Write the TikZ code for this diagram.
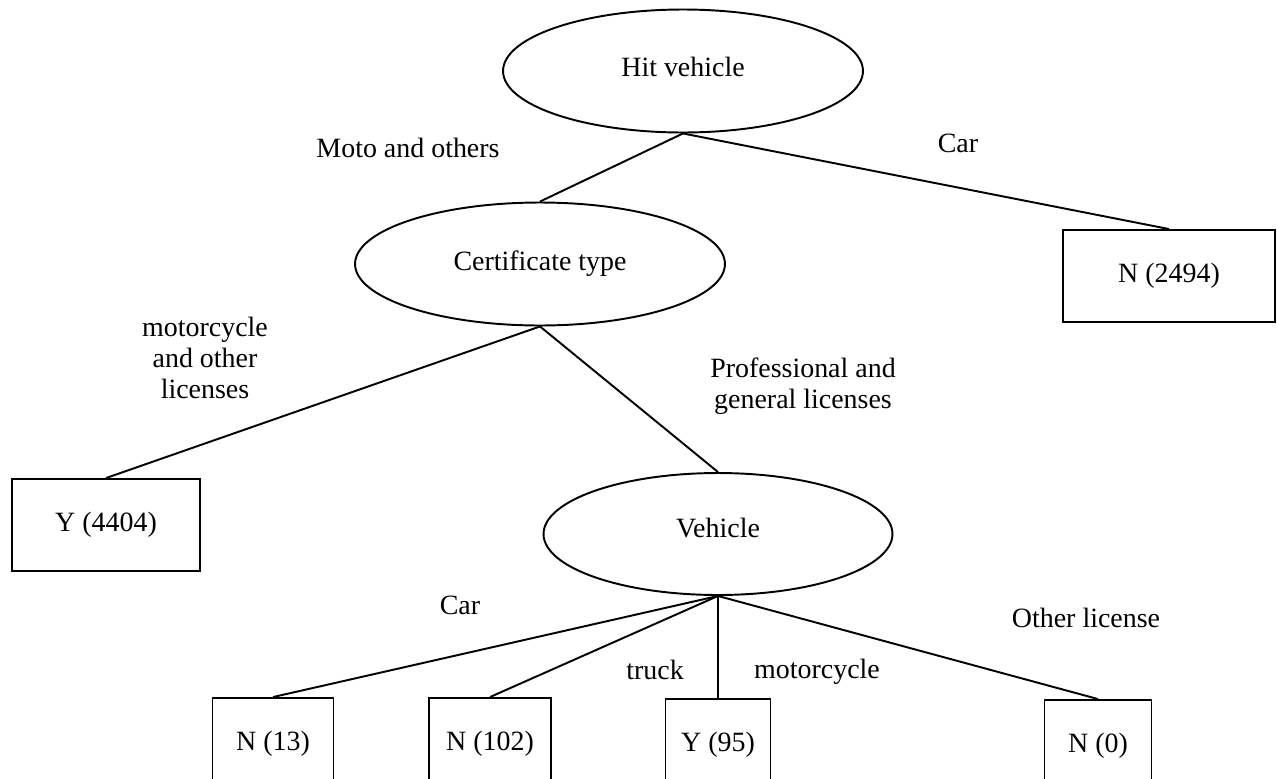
\documentclass[tikz,border=0pt]{standalone}
\usepackage{fontspec}
\setmainfont{Liberation Serif}
\usetikzlibrary{shapes.geometric}

\tikzset{
    split/.style={draw, ellipse, line width=1.1pt, inner sep=0pt},
    leaf/.style={draw, rectangle, line width=1.1pt, inner sep=0pt, minimum height=1.84cm},
    branch/.style={align=center},
    edge/.style={line width=1.1pt}
}

\begin{document}
\begin{tikzpicture}[x=0.02cm, y=-0.02cm, font=\fontsize{15.9}{17.6}\selectfont]

    \useasboundingbox (0,0) rectangle (1277,778);

    \node[split, minimum width=7.2cm, minimum height=2.46cm, text depth=.45em] (hit) at (683,71) {Hit vehicle};
    \node[split, minimum width=7.4cm, minimum height=2.46cm] (cert) at (540,264) {Certificate type};
    \node[split, minimum width=6.98cm, minimum height=2.44cm, text depth=.75em] (veh) at (718,534) {Vehicle};

    \node[leaf, minimum width=4.24cm, text height=1.1em] (n2494) at (1169,276) {N (2494)};
    \node[leaf, minimum width=3.76cm, text height=1.05em] (y4404) at (106,525) {Y (4404)};

    \node[leaf, minimum width=2.42cm] (n13) at (273,744) {N (13)};
    \node[leaf, minimum width=2.44cm] (n102) at (490,744) {N (102)};
    \node[leaf, minimum width=2.1cm] (y95) at (718,745) {Y (95)};
    \node[leaf, minimum width=2.14cm] (n0) at (1098,746) {N (0)};

    \draw[edge] (hit.south) -- (cert.north);
    \draw[edge] (hit.south) -- (n2494.north);
    \draw[edge] (cert.south) -- (y4404.north);
    \draw[edge] (cert.south) -- (veh.north);
    \draw[edge] (veh.south) -- (n13.north);
    \draw[edge] (veh.south) -- (n102.north);
    \draw[edge] (veh.south) -- (y95.north);
    \draw[edge] (veh.south) -- (n0.north);

    % branch labels
    \node[branch] (lmoto) at (408,148) {Moto and others};
    \node[branch] (lcar) at (958,143) {Car};
    \node[branch] (lmotolic) at (205,358) {motorcycle\\and other\\licenses};
    \node[branch] (lprof) at (803,386) {Professional and\\general licenses};
    \node[branch] (lcar2) at (460,605) {Car};
    \node[branch] (ltruck) at (655,670) {truck};
    \node[branch] (lmotor) at (817,672) {motorcycle};
    \node[branch] (lother) at (1086,618) {Other license};
\end{tikzpicture}
\end{document}
